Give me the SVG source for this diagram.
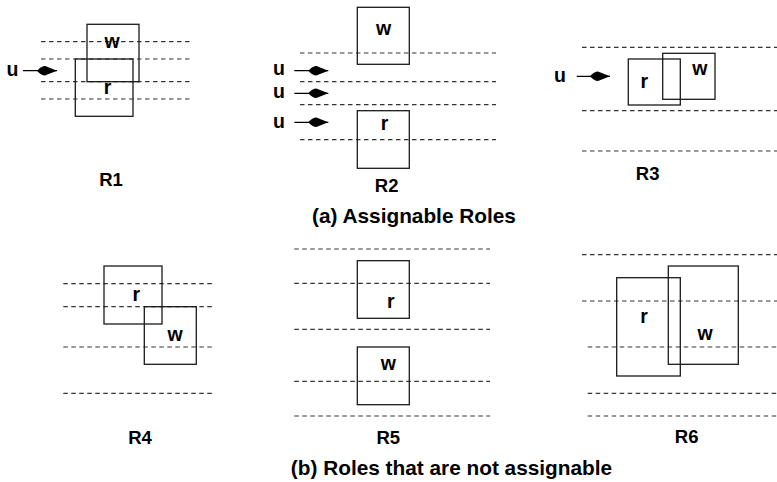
<svg xmlns="http://www.w3.org/2000/svg" width="777" height="482" viewBox="0 0 777 482">
<style>
.bx{fill:none;stroke:#1a1a1a;stroke-width:1.3}
.ds{stroke:#333;stroke-width:1.2;stroke-dasharray:4.5 3.5;fill:none}
.ar{stroke:#000;stroke-width:1.3;fill:none;marker-end:url(#kite)}
.t{font-family:"Liberation Sans",Arial,sans-serif;font-weight:bold;font-size:19.5px;fill:#000;text-anchor:middle}
.lab{font-family:"Liberation Sans",Arial,sans-serif;font-weight:bold;font-size:18.5px;fill:#000;text-anchor:middle}
.cap{font-family:"Liberation Sans",Arial,sans-serif;font-weight:bold;font-size:20.8px;fill:#000;text-anchor:middle}
</style>
<defs>
<marker id="kite" markerUnits="userSpaceOnUse" markerWidth="22" markerHeight="12" refX="20" refY="5" orient="auto">
<path d="M0,5 Q4,0.3 8,0.2 L20,5 L8,9.8 Q4,9.7 0,5 Z" fill="#000"/>
</marker>
</defs>
<g id="lanes">
<line class="ds" x1="41" y1="41.7" x2="191" y2="41.7"/>
<line class="ds" x1="41" y1="59" x2="191" y2="59"/>
<line class="ds" x1="41" y1="81.7" x2="191" y2="81.7"/>
<line class="ds" x1="41" y1="99" x2="191" y2="99"/>
<line class="ds" x1="300" y1="53" x2="496" y2="53"/>
<line class="ds" x1="300" y1="81.7" x2="496" y2="81.7"/>
<line class="ds" x1="300" y1="104.7" x2="496" y2="104.7"/>
<line class="ds" x1="300" y1="139.7" x2="496" y2="139.7"/>
<line class="ds" x1="582" y1="47.3" x2="777" y2="47.3"/>
<line class="ds" x1="582" y1="110.7" x2="777" y2="110.7"/>
<line class="ds" x1="582" y1="151" x2="777" y2="151"/>
<line class="ds" x1="63.3" y1="283.7" x2="213.3" y2="283.7"/>
<line class="ds" x1="63.3" y1="306.7" x2="213.3" y2="306.7"/>
<line class="ds" x1="63.3" y1="347" x2="213.3" y2="347"/>
<line class="ds" x1="63.3" y1="393.3" x2="213.3" y2="393.3"/>
<line class="ds" x1="294.3" y1="249" x2="490" y2="249"/>
<line class="ds" x1="294.3" y1="283.3" x2="490" y2="283.3"/>
<line class="ds" x1="294.3" y1="329.3" x2="490" y2="329.3"/>
<line class="ds" x1="294.3" y1="381.3" x2="490" y2="381.3"/>
<line class="ds" x1="294.3" y1="416" x2="490" y2="416"/>
<line class="ds" x1="582" y1="254.7" x2="777" y2="254.7"/>
<line class="ds" x1="582" y1="301" x2="777" y2="301"/>
<line class="ds" x1="587.7" y1="347" x2="777" y2="347"/>
<line class="ds" x1="587.7" y1="393.3" x2="777" y2="393.3"/>
<line class="ds" x1="587.7" y1="416" x2="777" y2="416"/>
</g>
<g id="R1">
<rect class="bx" x="87" y="24.3" width="52" height="57.4"/>
<rect class="bx" x="75.3" y="59" width="57.7" height="57.3"/>
<text class="t" x="112" y="48">w</text>
<text class="t" x="107.5" y="94">r</text>
<text class="t" x="12.5" y="76">u</text>
<text class="lab" x="111" y="186">R1</text>
</g>
<g id="R2">
<rect class="bx" x="357.3" y="7.3" width="52" height="57"/>
<rect class="bx" x="357.3" y="110.7" width="52" height="57.6"/>
<text class="t" x="383.7" y="35">w</text>
<text class="t" x="384.5" y="130">r</text>
<text class="t" x="279" y="75">u</text>
<text class="t" x="279" y="97.7">u</text>
<text class="t" x="279" y="127.7">u</text>
<text class="lab" x="386.7" y="191.7">R2</text>
</g>
<g id="R3">
<rect class="bx" x="628.3" y="59" width="52" height="46"/>
<rect class="bx" x="662.7" y="53.3" width="52.3" height="46"/>
<text class="t" x="644.2" y="88">r</text>
<text class="t" x="699.8" y="75">w</text>
<text class="t" x="560" y="81.7">u</text>
<text class="lab" x="647.7" y="180">R3</text>
</g>
<g id="R4">
<rect class="bx" x="104" y="266" width="58" height="58"/>
<rect class="bx" x="144.3" y="306.7" width="52" height="57.6"/>
<text class="t" x="136.3" y="301">r</text>
<text class="t" x="175" y="340.7">w</text>
<text class="lab" x="140" y="444">R4</text>
</g>
<g id="R5">
<rect class="bx" x="357.3" y="260.7" width="52" height="57.6"/>
<rect class="bx" x="357.3" y="347" width="52" height="57.7"/>
<text class="t" x="390.7" y="307.7">r</text>
<text class="t" x="388.3" y="370">w</text>
<text class="lab" x="388.3" y="444">R5</text>
</g>
<g id="R6">
<rect class="bx" x="616.7" y="277.7" width="63.6" height="98.3"/>
<rect class="bx" x="668.3" y="266" width="70" height="98.3"/>
<text class="t" x="644" y="323">r</text>
<text class="t" x="705" y="340">w</text>
<text class="lab" x="686.7" y="443">R6</text>
</g>
<g id="connectors">
<line class="ar" x1="23" y1="70.7" x2="57" y2="70.7"/>
<line class="ar" x1="294.3" y1="70.7" x2="328.3" y2="70.7"/>
<line class="ar" x1="294.3" y1="93.3" x2="328.3" y2="93.3"/>
<line class="ar" x1="294.3" y1="122.3" x2="328.3" y2="122.3"/>
<line class="ar" x1="576.7" y1="76.3" x2="610" y2="76.3"/>
</g>
<g id="captions">
<text class="cap" x="414" y="222.5">(a) Assignable Roles</text>
<text class="cap" x="451.5" y="475">(b) Roles that are not assignable</text>
</g>
</svg>
